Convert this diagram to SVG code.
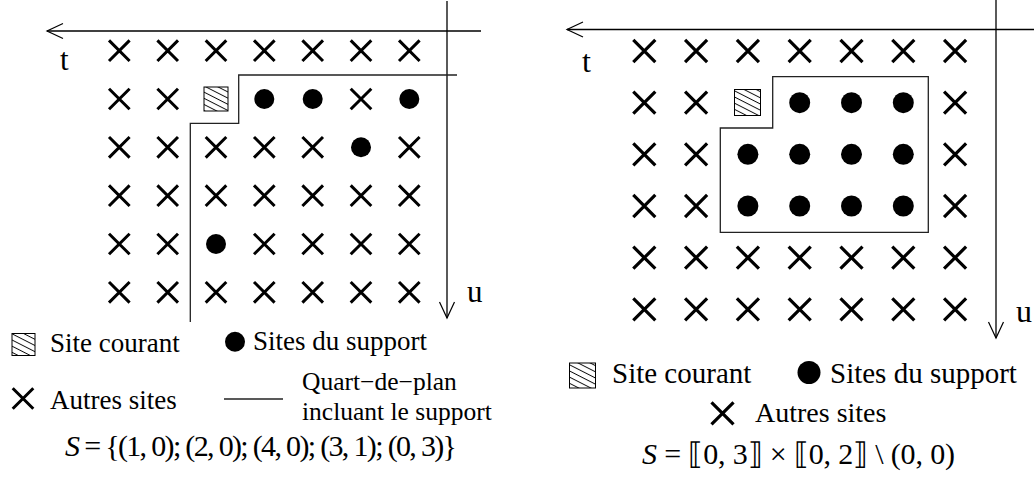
<svg xmlns="http://www.w3.org/2000/svg" xmlns:xlink="http://www.w3.org/1999/xlink" width="1034" height="478" viewBox="0 0 1034 478">
<style>
.ax{stroke:#000;stroke-width:1.3;fill:none}
.qp{stroke:#222;stroke-width:1.3;fill:none}
.tx{font-family:"Liberation Serif","Times New Roman",serif;fill:#000}
.cr{stroke:#000;stroke-width:3;fill:none}
.hs{stroke:#000;stroke-width:1;fill:url(#hatch)}
</style>
<defs>
<marker id="arr" viewBox="-18 -10 20 20" refX="0" refY="0" markerWidth="20" markerHeight="20" markerUnits="userSpaceOnUse" orient="auto" overflow="visible">
<path d="M-16,-7.5 L0,0 L-16,7.5" fill="none" stroke="#000" stroke-width="1.2"/>
</marker>
<pattern id="hatch" width="5.5" height="5.5" patternUnits="userSpaceOnUse" patternTransform="rotate(27)">
<rect width="5.5" height="5.5" fill="#fff"/>
<line x1="0" y1="0.5" x2="5.5" y2="0.5" stroke="#000" stroke-width="0.9"/>
</pattern>
<path id="x" class="cr" d="M-10.3,-10.3 L10.3,10.3 M10.3,-10.3 L-10.3,10.3"/>
<circle id="d" r="10" fill="#000"/>
</defs>

<!-- LEFT PANEL -->
<g id="left-axes">
<line class="ax" x1="481" y1="31" x2="47" y2="31" marker-end="url(#arr)"/>
<line class="ax" x1="447" y1="1" x2="447" y2="318" marker-end="url(#arr)"/>
<text class="tx" x="60" y="70" font-size="31">t</text>
<text class="tx" x="467" y="302" font-size="31">u</text>
</g>
<g id="left-quarter-plane">
<path class="qp" d="M457,75 H238.7 V123.3 H190.3 V322"/>
</g>
<g id="left-grid">
<use xlink:href="#x" x="119.3" y="50.7"/><use xlink:href="#x" x="167.7" y="50.7"/><use xlink:href="#x" x="216" y="50.7"/><use xlink:href="#x" x="264.3" y="50.7"/><use xlink:href="#x" x="312.7" y="50.7"/><use xlink:href="#x" x="361" y="50.7"/><use xlink:href="#x" x="409.3" y="50.7"/>
<use xlink:href="#x" x="119.3" y="99"/><use xlink:href="#x" x="167.7" y="99"/>
<rect class="hs" x="204" y="87" width="24" height="24"/>
<use xlink:href="#d" x="264.3" y="99"/><use xlink:href="#d" x="312.7" y="99"/><use xlink:href="#x" x="361" y="99"/><use xlink:href="#d" x="409.3" y="99"/>
<use xlink:href="#x" x="119.3" y="147.3"/><use xlink:href="#x" x="167.7" y="147.3"/><use xlink:href="#x" x="216" y="147.3"/><use xlink:href="#x" x="264.3" y="147.3"/><use xlink:href="#x" x="312.7" y="147.3"/><use xlink:href="#d" x="361" y="147.3"/><use xlink:href="#x" x="409.3" y="147.3"/>
<use xlink:href="#x" x="119.3" y="195.7"/><use xlink:href="#x" x="167.7" y="195.7"/><use xlink:href="#x" x="216" y="195.7"/><use xlink:href="#x" x="264.3" y="195.7"/><use xlink:href="#x" x="312.7" y="195.7"/><use xlink:href="#x" x="361" y="195.7"/><use xlink:href="#x" x="409.3" y="195.7"/>
<use xlink:href="#x" x="119.3" y="244"/><use xlink:href="#x" x="167.7" y="244"/><use xlink:href="#d" x="216" y="244"/><use xlink:href="#x" x="264.3" y="244"/><use xlink:href="#x" x="312.7" y="244"/><use xlink:href="#x" x="361" y="244"/><use xlink:href="#x" x="409.3" y="244"/>
<use xlink:href="#x" x="119.3" y="292.3"/><use xlink:href="#x" x="167.7" y="292.3"/><use xlink:href="#x" x="216" y="292.3"/><use xlink:href="#x" x="264.3" y="292.3"/><use xlink:href="#x" x="312.7" y="292.3"/><use xlink:href="#x" x="361" y="292.3"/><use xlink:href="#x" x="409.3" y="292.3"/>
</g>
<g id="left-legend">
<rect class="hs" x="12" y="333.5" width="23" height="22"/>
<text class="tx" x="50" y="352" font-size="27">Site courant</text>
<circle cx="235" cy="341.7" r="10" fill="#000"/>
<text class="tx" x="253" y="350" font-size="27">Sites du support</text>
<use xlink:href="#x" x="23" y="398.5"/>
<text class="tx" x="50" y="409" font-size="27">Autres sites</text>
<line class="qp" x1="224" y1="399" x2="283" y2="399"/>
<text class="tx" x="302" y="390" font-size="25.5">Quart−de−plan</text>
<text class="tx" x="302" y="420" font-size="25.5">incluant le support</text>
<text class="tx" x="65" y="456" font-size="30" textLength="392" lengthAdjust="spacing"><tspan font-style="italic">S</tspan> = {(1, 0); (2, 0); (4, 0); (3, 1); (0, 3)}</text>
</g>

<!-- RIGHT PANEL -->
<g id="right-axes">
<line class="ax" x1="1034" y1="29.5" x2="567" y2="29.5" marker-end="url(#arr)"/>
<line class="ax" x1="996" y1="0" x2="996" y2="338" marker-end="url(#arr)"/>
<text class="tx" x="582" y="72" font-size="32">t</text>
<text class="tx" x="1016" y="322" font-size="32">u</text>
</g>
<g id="right-support-region">
<path class="qp" d="M772.7,76.7 H928.3 V232.3 H720.3 V128 H772.7 Z"/>
</g>
<g id="right-grid">
<g transform="translate(644.3,51) scale(1.07)"><use xlink:href="#x"/></g>
<g transform="translate(696.1,51) scale(1.07)"><use xlink:href="#x"/></g>
<g transform="translate(747.9,51) scale(1.07)"><use xlink:href="#x"/></g>
<g transform="translate(799.7,51) scale(1.07)"><use xlink:href="#x"/></g>
<g transform="translate(851.5,51) scale(1.07)"><use xlink:href="#x"/></g>
<g transform="translate(903.3,51) scale(1.07)"><use xlink:href="#x"/></g>
<g transform="translate(955.1,51) scale(1.07)"><use xlink:href="#x"/></g>

<g transform="translate(644.3,102.7) scale(1.07)"><use xlink:href="#x"/></g>
<g transform="translate(696.1,102.7) scale(1.07)"><use xlink:href="#x"/></g>
<rect class="hs" x="734.5" y="89.5" width="26" height="26"/>
<circle cx="799.7" cy="102.7" r="10.5" fill="#000"/>
<circle cx="851.5" cy="102.7" r="10.5" fill="#000"/>
<circle cx="903.3" cy="102.7" r="10.5" fill="#000"/>
<g transform="translate(955.1,102.7) scale(1.07)"><use xlink:href="#x"/></g>

<g transform="translate(644.3,154.3) scale(1.07)"><use xlink:href="#x"/></g>
<g transform="translate(696.1,154.3) scale(1.07)"><use xlink:href="#x"/></g>
<circle cx="747.9" cy="154.3" r="10.5" fill="#000"/>
<circle cx="799.7" cy="154.3" r="10.5" fill="#000"/>
<circle cx="851.5" cy="154.3" r="10.5" fill="#000"/>
<circle cx="903.3" cy="154.3" r="10.5" fill="#000"/>
<g transform="translate(955.1,154.3) scale(1.07)"><use xlink:href="#x"/></g>

<g transform="translate(644.3,206) scale(1.07)"><use xlink:href="#x"/></g>
<g transform="translate(696.1,206) scale(1.07)"><use xlink:href="#x"/></g>
<circle cx="747.9" cy="206" r="10.5" fill="#000"/>
<circle cx="799.7" cy="206" r="10.5" fill="#000"/>
<circle cx="851.5" cy="206" r="10.5" fill="#000"/>
<circle cx="903.3" cy="206" r="10.5" fill="#000"/>
<g transform="translate(955.1,206) scale(1.07)"><use xlink:href="#x"/></g>

<g transform="translate(644.3,257.7) scale(1.07)"><use xlink:href="#x"/></g>
<g transform="translate(696.1,257.7) scale(1.07)"><use xlink:href="#x"/></g>
<g transform="translate(747.9,257.7) scale(1.07)"><use xlink:href="#x"/></g>
<g transform="translate(799.7,257.7) scale(1.07)"><use xlink:href="#x"/></g>
<g transform="translate(851.5,257.7) scale(1.07)"><use xlink:href="#x"/></g>
<g transform="translate(903.3,257.7) scale(1.07)"><use xlink:href="#x"/></g>
<g transform="translate(955.1,257.7) scale(1.07)"><use xlink:href="#x"/></g>

<g transform="translate(644.3,309.3) scale(1.07)"><use xlink:href="#x"/></g>
<g transform="translate(696.1,309.3) scale(1.07)"><use xlink:href="#x"/></g>
<g transform="translate(747.9,309.3) scale(1.07)"><use xlink:href="#x"/></g>
<g transform="translate(799.7,309.3) scale(1.07)"><use xlink:href="#x"/></g>
<g transform="translate(851.5,309.3) scale(1.07)"><use xlink:href="#x"/></g>
<g transform="translate(903.3,309.3) scale(1.07)"><use xlink:href="#x"/></g>
<g transform="translate(955.1,309.3) scale(1.07)"><use xlink:href="#x"/></g>
</g>
<g id="right-legend">
<rect class="hs" x="569.5" y="363" width="26" height="25"/>
<text class="tx" x="612" y="383" font-size="29">Site courant</text>
<circle cx="809" cy="372.5" r="11.5" fill="#000"/>
<text class="tx" x="830" y="383" font-size="29">Sites du support</text>
<g transform="translate(722.5,413.4) scale(1.07)"><use xlink:href="#x"/></g>
<text class="tx" x="755" y="422" font-size="28">Autres sites</text>
<text class="tx" x="642" y="464" font-size="30" textLength="313" lengthAdjust="spacing"><tspan font-style="italic">S</tspan> = ⟦0, 3⟧ × ⟦0, 2⟧ \ (0, 0)</text>
</g>
</svg>
